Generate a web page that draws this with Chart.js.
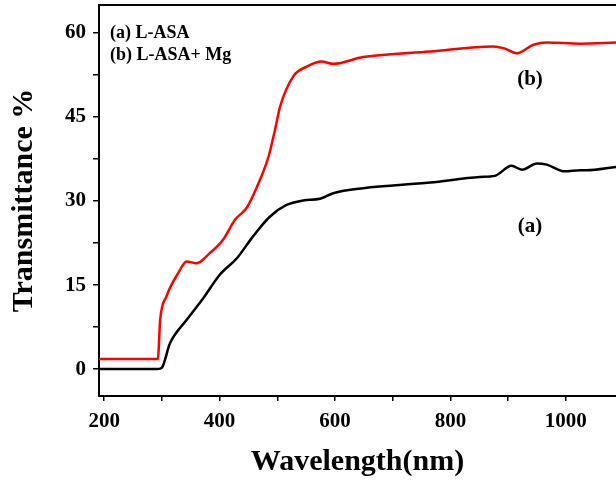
<!DOCTYPE html>
<html>
<head>
<meta charset="utf-8">
<script src="https://cdn.jsdelivr.net/npm/chart.js@4"></script>
<style>
  html, body { margin: 0; padding: 0; background: #fff; }
  #wrap { width: 616px; height: 480px; position: relative; }
</style>
</head>
<body>
<div id="wrap"><canvas id="chartUV"></canvas></div>
<script>
// === Data ===
const waveA = [191, 291, 299.5, 314, 343, 372, 400, 430, 458, 487, 516, 545, 574, 597, 649, 765, 851, 877, 906, 924, 950, 967, 998, 1025, 1036, 1087];
const transA = [0, 0, 0.2, 4.6, 8.8, 12.7, 16.8, 19.8, 23.7, 27.2, 29.3, 30.1, 30.4, 31.4, 32.3, 33.3, 34.3, 34.5, 36.3, 35.6, 36.7, 36.5, 35.3, 35.5, 35.5, 36.1];

const waveB = [191, 293, 297, 308, 328, 343, 360, 383, 406, 427, 447, 470, 485, 496, 505, 528, 551, 577, 597, 649, 765, 874, 892, 915, 944, 967, 1025, 1087];
const transB = [1.8, 1.8, 8.8, 13.0, 17.1, 19.2, 18.9, 20.7, 23.1, 26.7, 28.8, 33.8, 38.0, 42.7, 46.9, 52.3, 54.0, 54.9, 54.5, 55.7, 56.7, 57.6, 57.3, 56.4, 57.9, 58.3, 58.1, 58.3];

// tick positions (every mark) and the ones that get a label
const xTicks = [200, 300, 400, 500, 600, 700, 800, 900, 1000];
const xLabels = [200, 400, 600, 800, 1000];
const yTicks = [0, 7.5, 15, 22.5, 30, 37.5, 45, 52.5, 60];
const yLabels = [0, 15, 30, 45, 60];

const seriesNames = ['(a) L-ASA', '(b) L-ASA+ Mg'];
const curveTags = ['(a)', '(b)'];
const tagPos = [[938, 25.5], [938, 51.7]];

const serif = '"Liberation Serif", "Times New Roman", serif';
Chart.defaults.font.family = serif;
Chart.defaults.font.weight = 'bold';
Chart.defaults.color = '#000';

const toXY = (xs, ys) => xs.map((x, i) => ({ x: x, y: ys[i] }));

// === Frame line on top + text labels ===
const extras = {
  id: 'extras',
  afterDraw(chart) {
    const { ctx, chartArea, scales } = chart;
    ctx.save();
    ctx.strokeStyle = '#000';
    ctx.lineWidth = 2;
    ctx.beginPath();
    ctx.moveTo(chartArea.left, chartArea.top);
    ctx.lineTo(chartArea.right, chartArea.top);
    ctx.stroke();

    ctx.fillStyle = '#000';
    ctx.font = 'bold 18px ' + serif;
    ctx.textAlign = 'left';
    ctx.textBaseline = 'middle';
    ctx.fillText(seriesNames[0], chartArea.left + 11, 33);
    ctx.fillText(seriesNames[1], chartArea.left + 11, 55);

    ctx.font = 'bold 21px ' + serif;
    ctx.textAlign = 'center';
    curveTags.forEach((t, i) => {
      ctx.fillText(t, scales.x.getPixelForValue(tagPos[i][0]), scales.y.getPixelForValue(tagPos[i][1]));
    });
    ctx.restore();
  }
};

// keep the plot box fixed: no extra room for edge labels
const noEdgePad = scale => {
  scale.paddingTop = 0;
  scale.paddingBottom = 0;
  scale.paddingLeft = 0;
  scale.paddingRight = 0;
};

const uvCtx = document.getElementById('chartUV');
new Chart(uvCtx, {
  type: 'line',
  data: {
    datasets: [
      {
        label: seriesNames[0],
        data: toXY(waveA, transA),
        borderColor: '#000',
        borderWidth: 2.5,
        pointRadius: 0,
        cubicInterpolationMode: 'monotone'
      },
      {
        label: seriesNames[1],
        data: toXY(waveB, transB),
        borderColor: '#ff0000',
        borderWidth: 2.5,
        pointRadius: 0,
        cubicInterpolationMode: 'monotone'
      }
    ]
  },
  options: {
    responsive: true,
    maintainAspectRatio: false,
    animation: false,
    layout: { padding: { left: 0, right: 0, top: 5, bottom: 0 } },
    scales: {
      x: {
        type: 'linear',
        min: 191,
        max: 1087,
        afterBuildTicks(scale) { scale.ticks = xTicks.map(v => ({ value: v })); },
        afterFit(scale) { scale.height = 84; noEdgePad(scale); },
        border: { color: '#000', width: 2 },
        grid: { drawOnChartArea: false, color: '#000', lineWidth: 1.5, tickLength: 5 },
        ticks: {
          autoSkip: false,
          maxRotation: 0,
          padding: 8,
          font: { size: 21, weight: 'bold' },
          callback: v => (xLabels.includes(v) ? v : '')
        },
        title: {
          display: true,
          text: 'Wavelength(nm)',
          font: { size: 30, weight: 'bold' },
          padding: { top: 0, bottom: 0 }
        }
      },
      y: {
        min: -4.8,
        max: 65,
        afterBuildTicks(scale) { scale.ticks = yTicks.map(v => ({ value: v })); },
        afterFit(scale) { scale.width = 99; noEdgePad(scale); },
        border: { color: '#000', width: 2 },
        grid: { drawOnChartArea: false, color: '#000', lineWidth: 1.5, tickLength: 6 },
        ticks: {
          autoSkip: false,
          padding: 7,
          font: { size: 21, weight: 'bold' },
          callback: v => (yLabels.includes(v) ? v : '')
        },
        title: {
          display: true,
          text: 'Transmittance %',
          font: { size: 30, weight: 'bold' },
          padding: { top: 6, bottom: 0 }
        }
      }
    },
    plugins: {
      legend: { display: false },
      tooltip: { enabled: false }
    }
  },
  plugins: [extras]
});
</script>
</body>
</html>
